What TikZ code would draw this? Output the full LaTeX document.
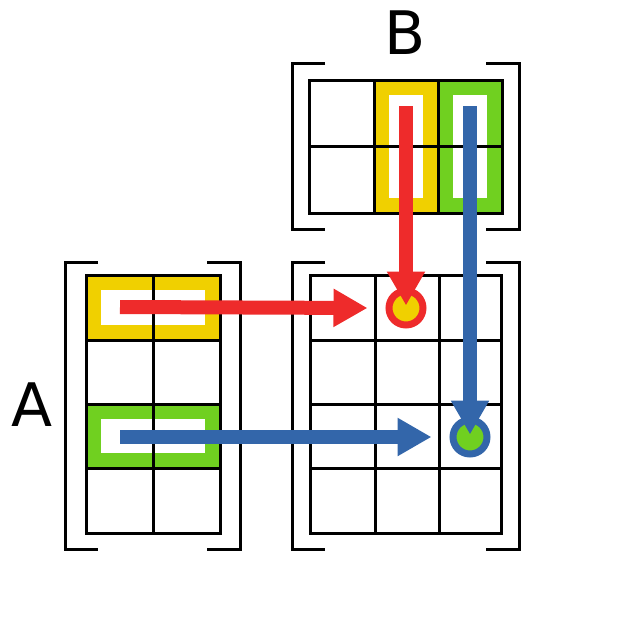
\documentclass[tikz,border=0pt]{standalone}
\usepackage{fontspec}
\setmainfont{DejaVu Sans}
\usetikzlibrary{arrows.meta}
\definecolor{cyel}{HTML}{F0D000}
\definecolor{cgrn}{HTML}{70D020}
\definecolor{cred}{HTML}{EE2B2B}
\definecolor{cblu}{HTML}{3366AA}
\tikzset{
  grid line/.style={line width=3pt},
  bracket/.style={line width=3pt},
  band/.style={draw=#1, line width=15pt},
  flow/.style={draw=#1, line width=14pt, -{Triangle[length=34pt,width=36pt]}},
  dot/.style={circle, draw=#1, line width=7pt, minimum size=34pt, inner sep=0pt}
}
\begin{document}
\begin{tikzpicture}[x=1pt,y=-1pt]
  \useasboundingbox (0,0) rectangle (640,640);
  % highlighted rows of A and columns of B
  \draw[band=cyel] (93.5,282.5) rectangle (212.5,332.5);
  \draw[band=cgrn] (93.5,411.5) rectangle (212.5,460.5);
  \draw[band=cyel] (381.5,87.5) rectangle (430.5,205.5);
  \draw[band=cgrn] (445.5,87.5) rectangle (494.5,205.5);
  % grids
  \draw[grid line] (86,275) rectangle (220,533);
  \foreach \y in {340,404,468} \draw[grid line] (86,\y) -- (220,\y);
  \draw[grid line] (153,275) -- (153,533);
  \draw[grid line] (309,80) rectangle (502,213);
  \draw[grid line] (309,146) -- (502,146);
  \foreach \x in {374,438} \draw[grid line] (\x,80) -- (\x,213);
  \draw[grid line] (310,275) rectangle (501,533);
  \foreach \y in {340,404,468} \draw[grid line] (310,\y) -- (501,\y);
  \foreach \x in {375,439} \draw[grid line] (\x,275) -- (\x,533);
  % brackets
  \draw[bracket] (98,262) -| (65,549) -- (98,549);
  \draw[bracket] (207,262) -| (240,549) -- (207,549);
  \draw[bracket] (325,63) -| (292,229) -- (325,229);
  \draw[bracket] (486,63) -| (519,229) -- (486,229);
  \draw[bracket] (325,262) -| (292,549) -- (325,549);
  \draw[bracket] (486,262) -| (519,549) -- (486,549);
  % result entries
  \node[dot=cred, fill=cyel] (c12) at (406,308) {};
  \node[dot=cblu, fill=cgrn] (c33) at (470,437) {};
  % arrows
  \coordinate (a1) at (120,307);
  \coordinate (a3) at (120,437);
  \coordinate (b2) at (406,106);
  \coordinate (b3) at (470,106);
  \draw[flow=cred] (a1) -- ([xshift=-18pt]c12.west);
  \draw[flow=cred] (b2) -- ([yshift=-18pt]c12.north);
  \draw[flow=cblu] (a3) -- ([xshift=-18pt]c33.west);
  \draw[flow=cblu] (b3) -- ([yshift=-18pt]c33.north);
  % labels
  \node[font=\fontsize{60}{60}\selectfont] (labA) at (32,405) {A};
  \node[font=\fontsize{60}{60}\selectfont] (labB) at (405,33) {B};
\end{tikzpicture}
\end{document}
